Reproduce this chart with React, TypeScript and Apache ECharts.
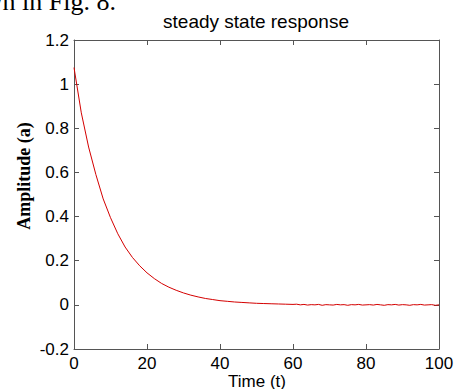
import React, { useEffect, useRef } from "react";
import * as echarts from "echarts";

const titleText = "steady state response";
const xName = "Time (t)";
const yName = "Amplitude (a)";
const captionFragment = "is shown in Fig. 8.";

const xTicks = [0, 20, 40, 60, 80, 100];
const yTicks = [-0.2, 0, 0.2, 0.4, 0.6, 0.8, 1, 1.2];

// decay part, read at t = 0, 2, 4, ... 60
const decayTimes = [
  0, 2, 4, 6, 8, 10, 12, 14, 16, 18, 20, 22, 24, 26, 28, 30, 32, 34, 36, 38, 40,
  42, 44, 46, 48, 50, 52, 54, 56, 58, 60,
];
const decayValues = [
  1.075, 0.87, 0.715, 0.59, 0.48, 0.395, 0.322, 0.262, 0.215, 0.177, 0.145,
  0.119, 0.097, 0.08, 0.066, 0.054, 0.044, 0.036, 0.029, 0.024, 0.019, 0.016,
  0.013, 0.011, 0.009, 0.007, 0.006, 0.005, 0.004, 0.003, 0.002,
];
// noisy tail, read at t = 61 ... 100
const tailTimes = [
  61, 62, 63, 64, 65, 66, 67, 68, 69, 70, 71, 72, 73, 74, 75, 76, 77, 78, 79, 80,
  81, 82, 83, 84, 85, 86, 87, 88, 89, 90, 91, 92, 93, 94, 95, 96, 97, 98, 99, 100,
];
const tailValues = [
  0.003, 0.0, 0.002, -0.001, 0.001, 0.0, 0.002, -0.002, 0.001, 0.0, -0.001,
  0.002, 0.0, 0.001, -0.002, 0.001, 0.0, 0.002, -0.001, 0.0, 0.001, -0.001,
  0.002, 0.0, -0.002, 0.001, 0.0, 0.002, -0.001, 0.001, 0.0, -0.002, 0.001,
  0.0, 0.002, -0.001, 0.0, 0.001, -0.002, 0.0,
];

const frameColor = "#555555";
const sansFont = "Liberation Sans, Arial, sans-serif";

export default function App() {
  const ref = useRef<HTMLDivElement>(null);

  useEffect(() => {
    if (!ref.current) return;
    const chart = echarts.init(ref.current, undefined, { renderer: "svg" });

    const data: [number, number][] = [];
    decayTimes.forEach((t, i) => data.push([t, decayValues[i]]));
    tailTimes.forEach((t, i) => data.push([t, tailValues[i]]));

    const axisCommon = {
      type: "value" as const,
      axisLine: { show: true, onZero: false, lineStyle: { color: frameColor, width: 1 } },
      axisTick: { show: true, inside: true, length: 5, lineStyle: { color: frameColor } },
      splitLine: { show: false },
    };

    chart.setOption({
      animation: false,
      backgroundColor: "#ffffff",
      grid: { left: 74, top: 40, right: 19, bottom: 40 },
      xAxis: [
        {
          ...axisCommon,
          min: xTicks[0],
          max: xTicks[xTicks.length - 1],
          interval: 20,
          position: "bottom",
          axisLabel: {
            show: true,
            margin: 6,
            color: "#000",
            fontFamily: sansFont,
            fontSize: 17,
          },
        },
        {
          ...axisCommon,
          min: xTicks[0],
          max: xTicks[xTicks.length - 1],
          interval: 20,
          position: "top",
          axisLabel: { show: false },
        },
      ],
      yAxis: [
        {
          ...axisCommon,
          min: yTicks[0],
          max: yTicks[yTicks.length - 1],
          interval: 0.2,
          position: "left",
          axisLabel: {
            show: true,
            margin: 5,
            color: "#000",
            fontFamily: sansFont,
            fontSize: 17,
            formatter: (v: number) => String(parseFloat(v.toFixed(1))),
          },
        },
        {
          ...axisCommon,
          min: yTicks[0],
          max: yTicks[yTicks.length - 1],
          interval: 0.2,
          position: "right",
          axisLabel: { show: false },
        },
      ],
      series: [
        {
          type: "line",
          data,
          xAxisIndex: 0,
          yAxisIndex: 0,
          showSymbol: false,
          symbol: "none",
          lineStyle: { color: "#d40000", width: 1 },
        },
      ],
      graphic: [
        {
          type: "text",
          x: 116,
          y: 14,
          style: {
            text: captionFragment,
            fontFamily: "Liberation Serif, Times New Roman, serif",
            fontSize: 26,
            fill: "#000",
            textAlign: "right",
            textVerticalAlign: "bottom",
          },
        },
        {
          type: "text",
          x: 256,
          y: 21,
          style: {
            text: titleText,
            fontFamily: sansFont,
            fontSize: 19,
            fill: "#000",
            textAlign: "center",
            textVerticalAlign: "middle",
          },
        },
        {
          type: "text",
          x: 257,
          y: 381,
          style: {
            text: xName,
            fontFamily: sansFont,
            fontSize: 17,
            fill: "#000",
            textAlign: "center",
            textVerticalAlign: "middle",
          },
        },
        {
          type: "text",
          x: 24,
          y: 176,
          rotation: Math.PI / 2,
          style: {
            text: yName,
            fontFamily: "Liberation Serif, Times New Roman, serif",
            fontWeight: "bold",
            fontSize: 18,
            fill: "#000",
            textAlign: "center",
            textVerticalAlign: "middle",
          },
        },
      ],
    });

    return () => chart.dispose();
  }, []);

  return (
    <div
      ref={ref}
      style={{ position: "fixed", left: 0, top: 0, width: 458, height: 389 }}
    />
  );
}
